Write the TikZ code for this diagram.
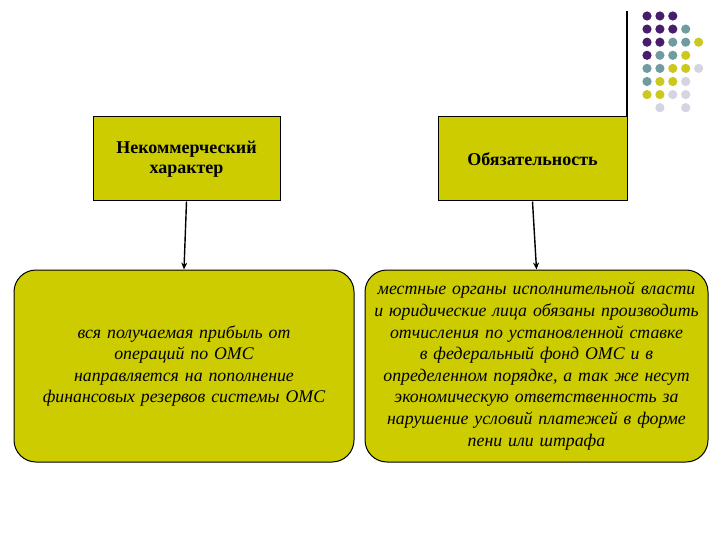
\documentclass[tikz,border=0pt]{standalone}
\usepackage{fontspec}
\setmainfont{Liberation Serif}
\usetikzlibrary{arrows.meta}
\definecolor{boxfill}{RGB}{204,204,0}
\definecolor{dotP}{RGB}{72,30,108}
\definecolor{dotT}{RGB}{112,156,160}
\definecolor{dotY}{RGB}{204,200,30}
\definecolor{dotL}{RGB}{212,212,226}
\tikzset{
  headbox/.style={draw=black, line width=1pt, fill=boxfill, rectangle, minimum width=187pt, minimum height=84pt, inner sep=0pt, align=center, text width=184pt, font=\fontsize{18}{20.5}\selectfont\bfseries},
  bodybox/.style={draw=black, line width=1pt, fill=boxfill, rectangle, rounded corners=22pt, minimum width=342pt, minimum height=192pt, inner sep=0pt, align=center, text width=340pt, font=\fontsize{17.8}{21.6}\selectfont\itshape},
  link/.style={draw=black, line width=1.4pt, -{Stealth[length=7pt,width=6pt]}},
}
\begin{document}
\begin{tikzpicture}[x=1pt,y=-1pt]
\useasboundingbox (0,0) rectangle (720,540);
\fill[white] (0,0) rectangle (720,540);
% decoration
\draw[line width=1.6pt] (627,11) -- (627,117);
\foreach \r/\c/\col in {0/0/dotP,0/1/dotP,0/2/dotP,
  1/0/dotP,1/1/dotP,1/2/dotP,1/3/dotT,
  2/0/dotP,2/1/dotP,2/2/dotT,2/3/dotT,2/4/dotY,
  3/0/dotP,3/1/dotT,3/2/dotT,3/3/dotY,
  4/0/dotT,4/1/dotT,4/2/dotY,4/3/dotY,4/4/dotL,
  5/0/dotT,5/1/dotY,5/2/dotY,5/3/dotL,
  6/0/dotY,6/1/dotY,6/2/dotL,6/3/dotL,
  7/1/dotL,7/3/dotL}
  \fill[\col] ({647+12.9*\c},{16+13.1*\r}) circle (4.6pt);
% boxes
\node[headbox] (t1) at (186.5,159) {Некоммерческий\\характер};
\node[headbox, minimum width=189pt] (t2) at (532.5,159) {Обязательность};
\node[bodybox, minimum width=340pt] (b1) at (184,366) {вся получаемая прибыль от\\операций по ОМС\\направляется на пополнение\\финансовых резервов системы ОМС};
\node[bodybox, minimum width=343pt] (b2) at (536.5,366) {местные органы исполнительной власти\\и юридические лица обязаны производить\\отчисления по установленной ставке\\в федеральный фонд ОМС и в\\определенном порядке, а так же несут\\экономическую ответственность за\\нарушение условий платежей в форме\\пени или штрафа};
\draw[link] (t1.south) -- (b1.north);
\draw[link] (t2.south) -- (b2.north);
\end{tikzpicture}
\end{document}
